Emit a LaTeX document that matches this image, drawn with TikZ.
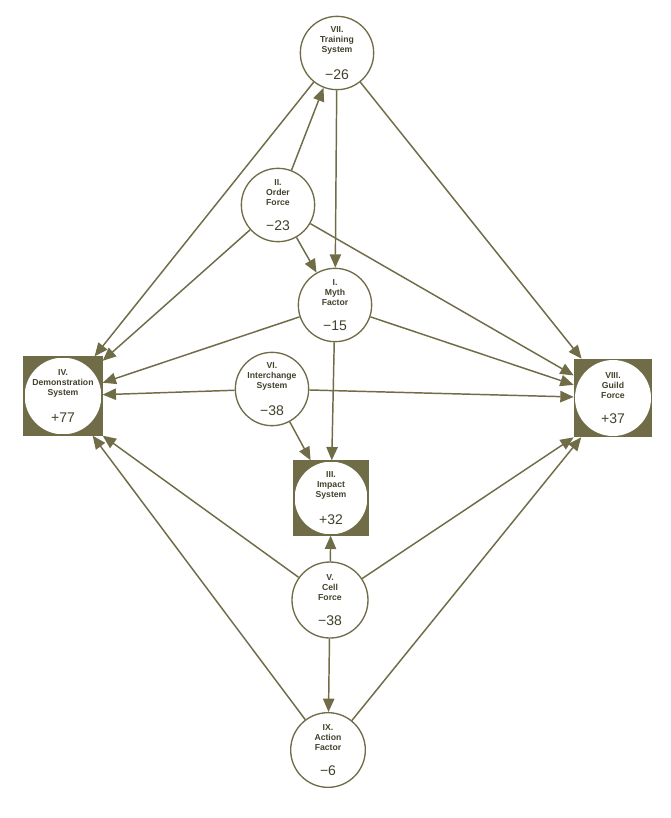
\documentclass[tikz,border=0pt]{standalone}
\usepackage{fontspec}
\setmainfont{Liberation Sans}
\usetikzlibrary{arrows.meta}
\definecolor{ink}{RGB}{112,108,72}
\newcommand{\numfont}{\fontsize{10.5}{12}\selectfont\mdseries}

\begin{document}
\begin{tikzpicture}[x=0.75pt,y=-0.75pt,
    vertex/.style={circle,draw=ink,line width=1pt,fill=white,minimum size=#1,
        inner sep=0pt,align=center,text=ink!60!black,
        font=\fontsize{6.5}{7.5}\selectfont\bfseries},
    vertex/.default=55pt,
    boxvertex/.style={rectangle,draw=ink,line width=1pt,fill=ink,minimum size=#1,
        inner sep=0pt,align=center,text=ink!60!black,
        font=\fontsize{6.5}{7.5}\selectfont\bfseries,
        path picture={\fill[white] (path picture bounding box.center) circle ({0.5*#1-0.5pt});}},
    link/.style={draw=ink,line width=1.1pt,-{Triangle[length=10pt,width=8.5pt]}}]
    \path[use as bounding box,fill=white] (0,0) rectangle (671,818);
    \node[vertex] (V7) at (337,53) {VII.\\Training\\System\\[11pt]{\numfont −26}};
    \node[vertex] (V2) at (278,205) {II.\\Order\\Force\\[11pt]{\numfont −23}};
    \node[vertex] (V1) at (335,305) {I.\\Myth\\Factor\\[11pt]{\numfont −15}};
    \node[vertex] (V6) at (272,389) {VI.\\Interchange\\System\\[11pt]{\numfont −38}};
    \node[boxvertex=58.5pt] (V4) at (63,396) {IV.\\Demonstration\\System\\[11pt]{\numfont +77}};
    \node[boxvertex=58pt] (V8) at (613,398) {VIII.\\Guild\\Force\\[11pt]{\numfont +37}};
    \node[boxvertex=55.5pt] (V3) at (331,498) {III.\\Impact\\System\\[11pt]{\numfont +32}};
    \node[vertex=57pt] (V5) at (330,600) {V.\\Cell\\Force\\[11pt]{\numfont −38}};
    \node[vertex=56pt] (V9) at (328,750) {IX.\\Action\\Factor\\[11pt]{\numfont −6}};
    \foreach \a/\b in {V2/V7,V7/V1,V2/V1,V7/V4,V2/V4,V1/V4,V6/V4,V9/V4,
                       V7/V8,V2/V8,V1/V8,V6/V8,V9/V8,V1/V3,V6/V3,V5/V3,V5/V9}
        \draw[link] (\a) -- (\b);
    \draw[link] (V5) -- (V4.south east);
    \draw[link] (V5) -- (V8.south west);
\end{tikzpicture}
\end{document}
